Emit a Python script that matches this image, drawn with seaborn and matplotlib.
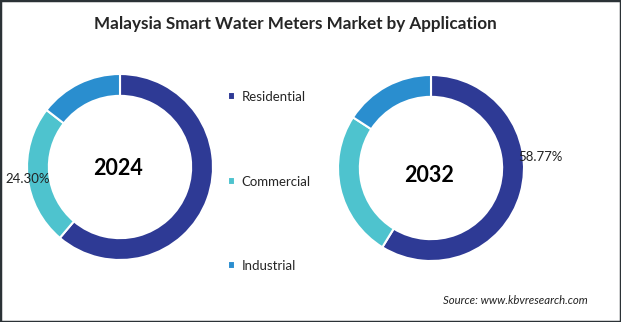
import matplotlib
matplotlib.use("Agg")
import matplotlib.pyplot as plt
from matplotlib.patches import Rectangle
import seaborn as sns

# Market share by application (%)
applications = ["Residential", "Commercial", "Industrial"]
years = ["2024", "2032"]
share_2024 = [61.2, 24.30, 14.5]
share_2032 = [58.77, 25.4, 15.83]
colors = ["#2E3A95", "#4EC3CE", "#2A8ECF"]

sns.set_theme(style="white")
plt.rcParams["font.family"] = ["Lato", "DejaVu Sans"]

W, H = 621, 322
fig = plt.figure(figsize=(W / 100, H / 100), dpi=100)
fig.patch.set_facecolor("white")

RING = 0.235


def donut(cx, cy, r, values, year, year_y, label_idx, label_xy):
    ax = fig.add_axes([(cx - r) / W, (H - cy - r) / H, 2 * r / W, 2 * r / H])
    wedges, _ = ax.pie(values, colors=colors, startangle=90, counterclock=False,
                       radius=1.0,
                       wedgeprops=dict(width=RING, edgecolor="white", linewidth=1.5))
    ax.set_xlim(-1, 1)
    ax.set_ylim(-1, 1)
    ax.set_aspect("equal")
    ax.axis("off")
    ax.text(-0.02, year_y, year, ha="center", va="center", fontsize=15.5,
            fontweight="bold", color="black")
    ax.text(label_xy[0], label_xy[1], f"{values[label_idx]:.2f}%", ha="center",
            va="center", fontsize=9.5, color="#222222", clip_on=False)
    return wedges


wedges = donut(120, 167, 93, share_2024, years[0], -0.02, 1, (-0.99, -0.13))
donut(431, 168, 93, share_2032, years[1], -0.08, 0, (1.18, 0.12))

fig.legend(wedges, applications, loc="upper left", bbox_to_anchor=(228 / W, 1 - 91 / H),
           frameon=False, fontsize=9.5, handlelength=0.55, handleheight=0.55,
           handletextpad=0.5, labelspacing=5.5, borderaxespad=0, borderpad=0)

fig.text(295 / W, 1 - 24 / H, "Malaysia Smart Water Meters Market by Application",
         ha="center", va="center", fontsize=12.3, fontweight="bold", color="#262626")
fig.text(515 / W, 1 - 301 / H, "Source: www.kbvresearch.com", ha="center",
         va="center", fontsize=8.2, style="italic", color="#222222")

fig.add_artist(Rectangle((0, 0), 1, 1, transform=fig.transFigure, fill=False,
                         edgecolor="#2B3236", linewidth=2.5))

fig.savefig("out.png", dpi=100, facecolor="white")
